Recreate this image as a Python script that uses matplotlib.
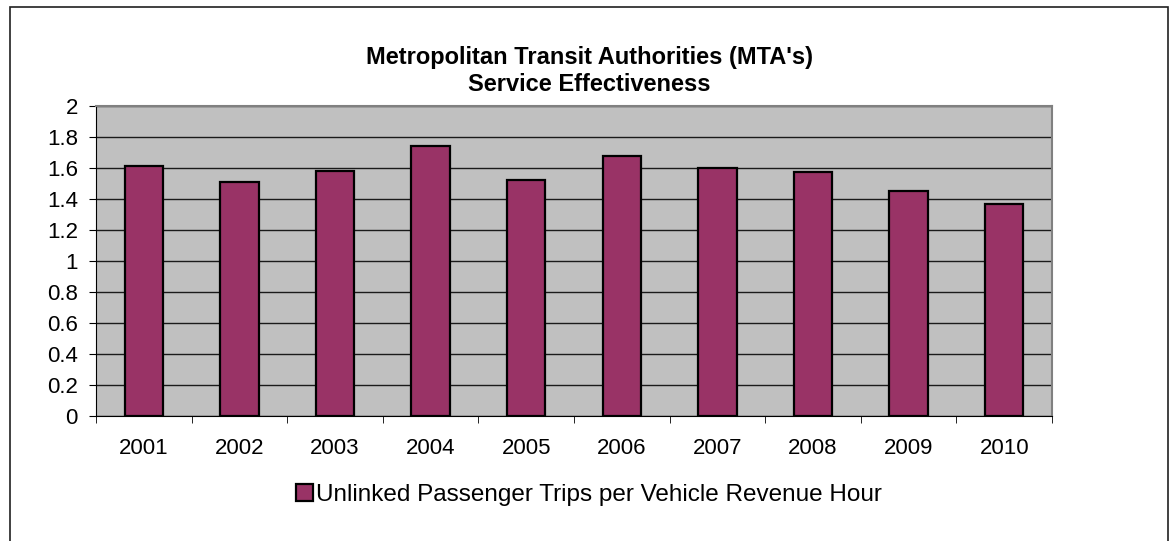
import numpy as np
import matplotlib.pyplot as plt
from matplotlib.patches import Rectangle

plt.rcParams['font.family'] = ['Liberation Sans', 'DejaVu Sans']

years = ['2001', '2002', '2003', '2004', '2005', '2006', '2007', '2008', '2009', '2010']
trips = [1.61, 1.51, 1.58, 1.74, 1.52, 1.68, 1.60, 1.575, 1.45, 1.365]
series_name = 'Unlinked Passenger Trips per Vehicle Revenue Hour'
title = "Metropolitan Transit Authorities (MTA's)\nService Effectiveness"

W, H = 1172, 541
fig = plt.figure(figsize=(W / 100, H / 100), dpi=100)
# chart area border (bottom edge runs off the image)
fig.patches.append(Rectangle((10 / W, -0.01), 1158 / W, 1 - 7 / H + 0.01,
                             transform=fig.transFigure, fill=False,
                             edgecolor='#202020', linewidth=1.2))

ax = fig.add_axes([96 / W, 1 - 416 / H, (1052 - 96) / W, (416 - 106) / H])
ax.set_facecolor('#C0C0C0')

x = np.arange(len(years))
bars = ax.bar(x, trips, width=0.4, color='#993366', edgecolor='black',
              linewidth=1.6, label=series_name, zorder=3)

ax.set_xlim(-0.5, len(years) - 0.5)
ax.set_ylim(0, 2)
yt = np.round(np.arange(0, 2.01, 0.2), 1)
ax.set_yticks(yt)
ax.set_yticklabels(['%g' % v for v in yt])
ax.yaxis.grid(True, color='#1a1a1a', linewidth=1, zorder=1)
ax.set_axisbelow(True)

ax.set_xticks(x)
ax.set_xticklabels(years)
ax.set_xticks(np.arange(-0.5, len(years), 1), minor=True)
ax.tick_params(axis='x', which='major', length=0, labelsize=16, pad=16)
ax.tick_params(axis='x', which='minor', length=5, direction='out', color='black')
ax.tick_params(axis='y', length=5, direction='out', labelsize=16, pad=8)

for side in ['top', 'right']:
    ax.spines[side].set_color('#808080')
    ax.spines[side].set_linewidth(1.5)
ax.spines['left'].set_color('black')
ax.spines['bottom'].set_color('black')

fig.text(589 / W, 1 - 71 / H, title, ha='center', va='center',
         fontsize=17, fontweight='bold', linespacing=1.2)

fig.legend(handles=[bars], loc='center', bbox_to_anchor=(589 / W, 1 - 495 / H),
           frameon=False, fontsize=17.5, handlelength=0.7, handleheight=0.7,
           handletextpad=0.15, borderpad=0)

fig.savefig('out.png', dpi=100)
